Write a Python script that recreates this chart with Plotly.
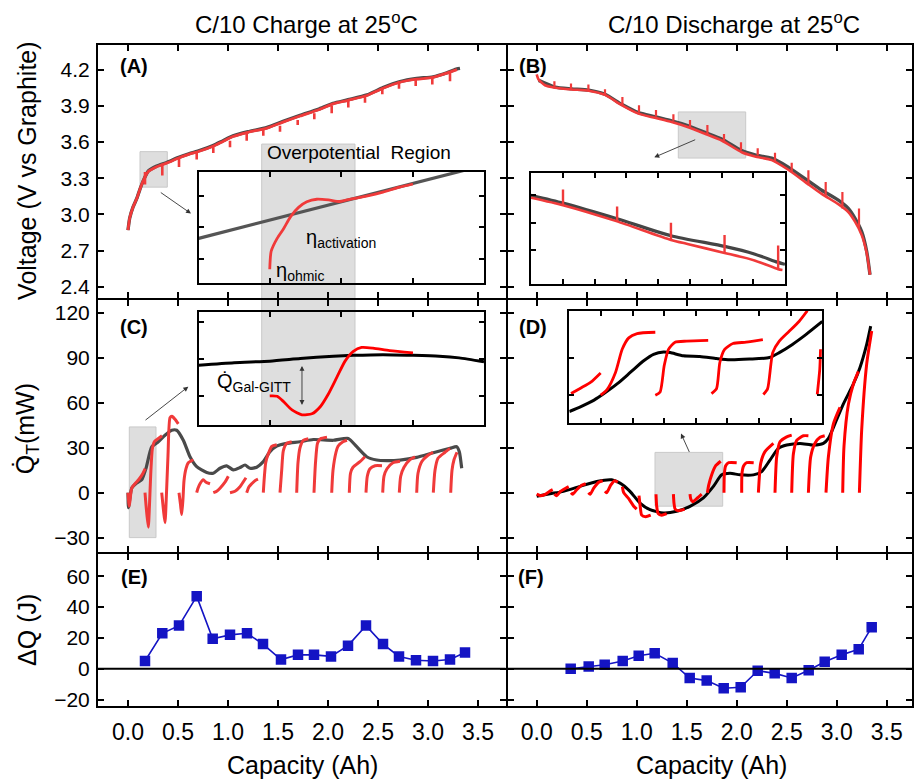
import plotly.graph_objects as go

W, H = 914, 784
FONT = "Liberation Sans, Arial, sans-serif"

# ---------------- Panel A: C/10 charge voltage ----------------
a_cap = [0.0, 0.017, 0.05, 0.087, 0.12, 0.153, 0.203, 0.287, 0.387, 0.50, 0.60, 0.72, 0.85, 0.95,
         1.05, 1.20, 1.39, 1.55, 1.72, 1.90, 2.05, 2.20, 2.39, 2.55, 2.72, 2.887, 3.05, 3.187, 3.29, 3.32]
a_volt_ocv = [2.87, 2.97, 3.06, 3.13, 3.21, 3.28, 3.36, 3.40, 3.43, 3.47, 3.50, 3.53, 3.57, 3.61,
              3.65, 3.685, 3.72, 3.77, 3.82, 3.87, 3.92, 3.95, 3.99, 4.05, 4.10, 4.126, 4.14, 4.173, 4.205, 4.21]
a_volt_gitt = [2.87, 2.97, 3.06, 3.13, 3.21, 3.28, 3.355, 3.395, 3.425, 3.465, 3.495, 3.525, 3.565, 3.605,
               3.645, 3.68, 3.715, 3.765, 3.815, 3.865, 3.915, 3.945, 3.985, 4.045, 4.095, 4.12, 4.135, 4.17, 4.20, None]
a_spike_cap = [0.17, 0.343, 0.51, 0.687, 0.853, 1.02, 1.187, 1.353, 1.52, 1.697, 1.863, 2.037,
               2.203, 2.37, 2.543, 2.71, 2.877, 3.043, 3.22]
a_spike_top = [3.351, 3.419, 3.474, 3.52, 3.564, 3.611, 3.666, 3.701, 3.734, 3.783, 3.838, 3.899,
               3.94, 3.981, 4.049, 4.104, 4.123, 4.14, 4.178]
a_spike_bot = [3.248, 3.323, 3.392, 3.455, 3.509, 3.556, 3.611, 3.652, 3.685, 3.74, 3.789, 3.838,
               3.885, 3.926, 3.995, 4.041, 4.063, 4.077, 4.104]

# inset A (normalised zoom coordinates)
ia_u_ocv = [0.0, 0.3, 0.6, 0.913, 1.0]
ia_v_ocv = [0.402, 0.598, 0.795, 1.0, 1.057]
ia_u_gitt = [0.249, 0.254, 0.275, 0.298, 0.321, 0.350, 0.379, 0.414, 0.455, 0.495, 0.542, 0.588, 0.646, 0.704, 0.751]
ia_v_gitt = [0.125, 0.286, 0.402, 0.49, 0.592, 0.679, 0.729, 0.752, 0.746, 0.732, 0.758, 0.781, 0.816, 0.860, 0.889]

# ---------------- Panel B: C/10 discharge voltage ----------------
b_cap_ocv = [0.02, 0.183, 0.35, 0.52, 0.683, 0.85, 1.017, 1.183, 1.35, 1.516, 1.683, 1.85, 2.05, 2.183,
             2.35, 2.516, 2.683, 2.85, 3.016, 3.116, 3.183, 3.25, 3.30, 3.333]
b_volt_ocv = [4.11, 4.054, 4.04, 4.03, 3.995, 3.912, 3.843, 3.81, 3.775, 3.734, 3.679, 3.624, 3.528, 3.493,
              3.466, 3.392, 3.296, 3.20, 3.118, 3.05, 2.968, 2.858, 2.693, 2.50]
b_cap_gitt = [0.0, 0.017, 0.083, 0.183, 0.35, 0.52, 0.683, 0.85, 1.017, 1.183, 1.35, 1.516, 1.683, 1.85,
              2.05, 2.183, 2.35, 2.516, 2.683, 2.85, 3.016, 3.116, 3.183, 3.25, 3.30, 3.333]
b_volt_gitt = [4.16, 4.12, 4.07, 4.05, 4.035, 4.025, 3.99, 3.905, 3.835, 3.80, 3.765, 3.722, 3.668, 3.612,
               3.515, 3.48, 3.45, 3.37, 3.27, 3.17, 3.085, 3.02, 2.94, 2.83, 2.68, 2.50]
b_spike_cap = [0.177, 0.343, 0.517, 0.683, 0.857, 1.023, 1.193, 1.367, 1.533, 1.707, 1.873, 2.043,
               2.21, 2.383, 2.55, 2.717, 2.89, 3.057, 3.223]
b_spike_lo = [4.058, 4.041, 4.03, 3.98, 3.904, 3.844, 3.811, 3.775, 3.721, 3.666, 3.611, 3.529,
              3.488, 3.433, 3.351, 3.241, 3.145, 3.049, 2.885]
b_spike_hi = [4.104, 4.085, 4.077, 4.036, 3.973, 3.904, 3.866, 3.83, 3.783, 3.74, 3.666, 3.598,
              3.548, 3.51, 3.428, 3.365, 3.269, 3.186, 3.049]

# inset B (normalised)
ib_u_ocv = [0.0, 0.126, 0.339, 0.551, 0.762, 0.879, 0.97, 1.0]
ib_v_ocv = [0.797, 0.727, 0.587, 0.436, 0.34, 0.273, 0.2, 0.18]
ib_u_gitt = [0.0, 0.126, 0.339, 0.551, 0.62, 0.762, 0.88, 0.973, 0.99]
ib_v_gitt = [0.776, 0.709, 0.564, 0.398, 0.36, 0.282, 0.215, 0.137, 0.13]
ib_spike_u = [0.126, 0.339, 0.551, 0.762, 0.973]
ib_spike_lo = [0.709, 0.564, 0.398, 0.282, 0.137]
ib_spike_hi = [0.849, 0.698, 0.552, 0.442, 0.349]

# ---------------- Panel C: heat rate on charge ----------------
c_cap_cal = [0.0, 0.005, 0.037, 0.087, 0.137, 0.18, 0.237, 0.303, 0.37, 0.437, 0.487, 0.553, 0.62, 0.687,
             0.787, 0.853, 0.92, 0.987, 1.053, 1.12, 1.17, 1.22, 1.287, 1.353, 1.42, 1.487, 1.587, 1.72,
             1.853, 2.053, 2.203, 2.287, 2.387, 2.487, 2.587, 2.72, 2.887, 3.053, 3.22, 3.287, 3.313, 3.337]
c_q_cal = [0, -10, 3, 6.4, 8.6, 16.3, 30.6, 34, 38.4, 41.7, 41.7, 35, 24, 17.4,
           13.5, 13, 16.3, 17.9, 15.2, 16.8, 18.5, 16.3, 17, 20.7, 27.4, 31.1, 32.9, 34,
           35.5, 35, 36.2, 30.7, 24, 21.8, 21.4, 21.8, 23.6, 26.7, 29.6, 30.7, 27.4, 16.3]
c_gitt_cap = [
    [0.0, 0.013, 0.037, 0.07, 0.11, 0.15, 0.172],
    [0.17, 0.185, 0.203, 0.215, 0.227, 0.243, 0.263, 0.32, 0.34],
    [0.337, 0.355, 0.37, 0.385, 0.40, 0.42, 0.44, 0.47, 0.503],
    [0.51, 0.525, 0.537, 0.55, 0.56, 0.58, 0.603, 0.653],
    [0.687, 0.70, 0.72, 0.753, 0.78, 0.82],
    [0.853, 0.887, 0.92, 0.97, 1.003],
    [1.02, 1.07, 1.12, 1.16, 1.18],
    [1.187, 1.21, 1.237, 1.27, 1.30],
    [1.353, 1.363, 1.377, 1.403, 1.437, 1.487],
    [1.52, 1.537, 1.553, 1.587, 1.637],
    [1.687, 1.70, 1.72, 1.753, 1.803],
    [1.86, 1.875, 1.895, 1.925, 1.99],
    [2.037, 2.05, 2.08, 2.10, 2.15, 2.19],
    [2.213, 2.225, 2.25, 2.32, 2.37],
    [2.38, 2.393, 2.42, 2.47, 2.54],
    [2.547, 2.56, 2.59, 2.65, 2.72],
    [2.713, 2.727, 2.76, 2.82, 2.87],
    [2.887, 2.90, 2.94, 3.00, 3.05],
    [3.053, 3.07, 3.10, 3.17, 3.22],
    [3.227, 3.24, 3.26, 3.29],
]
c_gitt_q = [
    [0, -9, 3, 6, 9, 13, 16],
    [0, -12, -23, -8, 12, 29, 34, 37, 38],
    [0, -12, -20, 0, 25, 50, 51, 49, 46],
    [0, -8, -14.6, -4, 8, 16, 20, 22],
    [0, 3, 6, 8.6, 7, 6],
    [0, 1, 3, 7, 11],
    [0, 1, 4, 8, 10],
    [0, 4, 6, 8, 9],
    [0, 10, 20, 26, 31, 32],
    [0, 15, 28, 33, 34],
    [0, 20, 30, 35, 36],
    [0, 20, 33, 36, 37],
    [0, 15, 27, 31, 34, 35],
    [0, 13, 17, 20.7, 24],
    [0, 11, 16, 18, 18],
    [0, 11, 16, 20, 21],
    [0, 11, 17, 22, 24],
    [0, 13, 21, 25, 27],
    [0, 15, 23, 27, 29.6],
    [0, 15, 22, 27],
]

# inset C (normalised)
ic_u_cal = [0.0, 0.124, 0.249, 0.356, 0.472, 0.542, 0.646, 0.751, 0.843, 0.913, 1.0]
ic_v_cal = [0.528, 0.551, 0.565, 0.588, 0.609, 0.617, 0.623, 0.617, 0.609, 0.594, 0.559]
ic_u_gitt = [0.249, 0.275, 0.298, 0.327, 0.362, 0.397, 0.426, 0.455, 0.484, 0.513, 0.542, 0.571, 0.611, 0.669, 0.751]
ic_v_gitt = [0.255, 0.252, 0.203, 0.13, 0.087, 0.096, 0.159, 0.275, 0.42, 0.565, 0.652, 0.687, 0.681, 0.658, 0.638]

# ---------------- Panel D: heat rate on discharge ----------------
d_cap_cal = [0.0, 0.133, 0.267, 0.433, 0.6, 0.75, 0.833, 0.933, 1.033, 1.133, 1.267, 1.4, 1.533, 1.667,
             1.767, 1.85, 1.933, 2.033, 2.167, 2.25, 2.333, 2.417, 2.5, 2.633, 2.767, 2.867, 2.917,
             2.983, 3.067, 3.167, 3.233, 3.3, 3.34]
d_q_cal = [-2.4, -0.7, 0.9, 4.2, 7.5, 8.6, 6.4, 0.9, -6.9, -11.3, -13.5, -12.4, -9.1, -3.5,
           4.2, 11.9, 13, 11.9, 11.9, 14.1, 21.8, 29.6, 31.8, 32.9, 31.8, 32.9, 36.2,
           46.1, 59.3, 72.6, 83.6, 99, 111.2]
d_gitt_cap = [
    [0.0, 0.04, 0.09, 0.13, 0.16],
    [0.177, 0.2, 0.24, 0.29, 0.32],
    [0.343, 0.36, 0.40, 0.45, 0.49],
    [0.517, 0.535, 0.57, 0.62, 0.66],
    [0.683, 0.70, 0.74, 0.78, 0.81],
    [0.857, 0.87, 0.92, 0.97, 1.0],
    [1.023, 1.035, 1.05, 1.09, 1.14],
    [1.193, 1.20, 1.215, 1.25, 1.30],
    [1.367, 1.373, 1.385, 1.42, 1.48],
    [1.533, 1.54, 1.56, 1.60, 1.65],
    [1.707, 1.72, 1.75, 1.79, 1.84],
    [1.873, 1.877, 1.89, 1.92, 2.0],
    [2.05, 2.053, 2.07, 2.10, 2.17],
    [2.217, 2.24, 2.283, 2.367],
    [2.383, 2.40, 2.433, 2.50, 2.55],
    [2.55, 2.567, 2.60, 2.667, 2.717],
    [2.717, 2.74, 2.783, 2.833, 2.88],
    [2.893, 2.917, 2.967, 3.033],
    [3.06, 3.073, 3.117, 3.167, 3.217],
    [3.227, 3.25, 3.30, 3.35],
]
d_gitt_q = [
    [-1, -2, -1, 1, 2],
    [-1, -2, 1, 3, 4],
    [0, -1, 2, 5, 6],
    [0, -1, 3, 7, 8],
    [1, 0, 5, 8, 7],
    [4, 0, -4, -9, -11],
    [-2, -9, -15, -16, -15],
    [-1, -9, -14, -15, -14],
    [-1, -7, -11, -12, -11],
    [-1, -4, -6, -4, -1],
    [0, 5, 12, 18, 21],
    [0, 13, 18, 20, 20],
    [0, 13, 18, 20, 20],
    [0, 19.6, 27.4, 32.9],
    [0, 24, 34, 37.3, 38.4],
    [0, 26, 35, 38, 38],
    [0, 24, 33, 37, 38],
    [0, 24, 46, 57],
    [0, 31, 59, 72.6, 81],
    [0, 42, 86, 108],
]

# inset D (normalised)
id_u_cal = [0.0, 0.046, 0.098, 0.137, 0.19, 0.242, 0.294, 0.333, 0.373, 0.399, 0.451, 0.516, 0.582,
            0.634, 0.712, 0.791, 0.83, 0.882, 0.935, 1.0]
id_v_cal = [0.102, 0.146, 0.204, 0.262, 0.35, 0.452, 0.554, 0.612, 0.633, 0.627, 0.598, 0.592, 0.574,
            0.563, 0.569, 0.583, 0.627, 0.70, 0.787, 0.904]
id_gitt_u = [
    [0.007, 0.046, 0.085, 0.124],
    [0.124, 0.15, 0.183, 0.209, 0.235, 0.268, 0.34],
    [0.34, 0.359, 0.375, 0.392, 0.418, 0.464, 0.549],
    [0.562, 0.582, 0.595, 0.614, 0.647, 0.699, 0.765],
    [0.767, 0.784, 0.804, 0.83, 0.869, 0.908, 0.941],
    [0.98, 0.99, 0.993],
]
id_gitt_v = [
    [0.262, 0.312, 0.364, 0.446],
    [0.248, 0.30, 0.452, 0.656, 0.758, 0.796, 0.808],
    [0.248, 0.277, 0.51, 0.656, 0.72, 0.729, 0.735],
    [0.262, 0.306, 0.539, 0.656, 0.708, 0.72, 0.743],
    [0.254, 0.306, 0.627, 0.729, 0.816, 0.904, 1.0],
    [0.254, 0.48, 0.656],
]

# ---------------- Panels E and F: heat difference ----------------
e_cap = [0.17, 0.343, 0.51, 0.687, 0.847, 1.02, 1.19, 1.35, 1.53, 1.70, 1.86, 2.03, 2.20, 2.38,
         2.55, 2.71, 2.88, 3.05, 3.22, 3.37]
e_dq = [5, 23, 28, 47, 19.5, 22, 23, 16, 6, 9, 9, 8, 15, 28, 16, 8, 5.5, 5, 6, 10.5]
f_cap = [0.34, 0.52, 0.68, 0.86, 1.02, 1.18, 1.36, 1.53, 1.70, 1.87, 2.04, 2.21, 2.38, 2.55,
         2.72, 2.88, 3.05, 3.22, 3.35]
f_dq = [0, 1.5, 2.6, 5, 8.4, 10, 3.7, -6, -7.7, -12.7, -12, -1.3, -3, -6, -1, 4.5, 9, 12.7, 27]

cap_ticks = [0.0, 0.5, 1.0, 1.5, 2.0, 2.5, 3.0, 3.5]
volt_ticks = [2.4, 2.7, 3.0, 3.3, 3.6, 3.9, 4.2]
heat_ticks = [-30, 0, 30, 60, 90, 120]
dq_ticks = [-20, 0, 20, 40, 60]

# ---------------- styling ----------------
RED = "#f03a3a"
PURE_RED = "#ff0000"
DARK = "#4a4a4a"
BLUE = "#1414c4"


def vsegments(xs, lo, hi):
    X, Y = [], []
    for x, a, b in zip(xs, lo, hi):
        X += [x, x, None]
        Y += [a, b, None]
    return X, Y


def joined(seg_x, seg_y):
    X, Y = [], []
    for sx, sy in zip(seg_x, seg_y):
        X += list(sx) + [None]
        Y += list(sy) + [None]
    return X, Y


fig = go.Figure()


def line(x, y, ax, color, width, shape="spline", smooth=0.6):
    fig.add_trace(go.Scatter(x=x, y=y, mode="lines", xaxis="x" + ax, yaxis="y" + ax,
                             line=dict(color=color, width=width, shape=shape,
                                       smoothing=smooth if shape == "spline" else None),
                             hoverinfo="skip", showlegend=False))


# A
line(a_cap, a_volt_ocv, "", DARK, 3.4)
line(a_cap, a_volt_gitt, "", RED, 2.8)
sx, sy = vsegments(a_spike_cap, a_spike_top, a_spike_bot)
line(sx, sy, "", RED, 2.6, shape="linear")
# B
line(b_cap_ocv, b_volt_ocv, "2", DARK, 3.4)
line(b_cap_gitt, b_volt_gitt, "2", RED, 2.6)
sx, sy = vsegments(b_spike_cap, b_spike_lo, b_spike_hi)
line(sx, sy, "2", RED, 2.2, shape="linear")
# C
line(c_cap_cal, c_q_cal, "3", DARK, 3.2)
gx, gy = joined(c_gitt_cap, c_gitt_q)
line(gx, gy, "3", RED, 3.0)
# D
line(d_cap_cal, d_q_cal, "4", "#000000", 3.0)
gx, gy = joined(d_gitt_cap, d_gitt_q)
line(gx, gy, "4", PURE_RED, 3.0)
# E, F
for xs, ys, ax in [(e_cap, e_dq, "5"), (f_cap, f_dq, "6")]:
    fig.add_trace(go.Scatter(x=xs, y=ys, mode="lines+markers", xaxis="x" + ax, yaxis="y" + ax,
                             line=dict(color=BLUE, width=1.6),
                             marker=dict(symbol="square", size=10.5, color=BLUE),
                             hoverinfo="skip", showlegend=False))
# inset A
line(ia_u_ocv, ia_v_ocv, "7", "#555555", 3.2, shape="linear")
line(ia_u_gitt, ia_v_gitt, "7", RED, 2.8)
# inset B
line(ib_u_ocv, ib_v_ocv, "8", "#454545", 3.2)
line(ib_u_gitt, ib_v_gitt, "8", RED, 2.6)
sx, sy = vsegments(ib_spike_u, ib_spike_lo, ib_spike_hi)
line(sx, sy, "8", RED, 2.4, shape="linear")
# inset C
line(ic_u_cal, ic_v_cal, "9", "#000000", 3.0)
line(ic_u_gitt, ic_v_gitt, "9", PURE_RED, 2.8)
# inset D
line(id_u_cal, id_v_cal, "10", "#000000", 3.0)
gx, gy = joined(id_gitt_u, id_gitt_v)
line(gx, gy, "10", PURE_RED, 2.8)

# ---------------- axes ----------------
LW = 2
LX = [98 / W, 505.5 / W]
RX = [507.5 / W, 912 / W]
TOP = [1 - 300 / H, 1 - 45.7 / H]
MID = [1 - 555.7 / H, 1 - 302 / H]
BOT = [1 - 710.7 / H, 1 - 557.7 / H]

base = dict(showline=True, linecolor="black", linewidth=LW, mirror="ticks", ticks="inside",
            ticklen=6, tickwidth=1.8, tickcolor="black", showgrid=False, zeroline=False,
            tickfont=dict(family=FONT, size=21, color="black"))


def xa(domain, anchor, rng, labels):
    d = dict(base, domain=domain, anchor=anchor, range=rng, tickvals=cap_ticks,
             ticktext=[f"{v:.1f}" for v in cap_ticks], showticklabels=labels)
    if labels:
        d["tickfont"] = dict(family=FONT, size=23, color="black")
        d["ticklabelstandoff"] = 4
    return d


def ya(domain, anchor, rng, ticks, labels, fmt):
    return dict(base, domain=domain, anchor=anchor, range=rng, tickvals=ticks,
                ticktext=[fmt.format(v).replace("-", "\u2212") for v in ticks], showticklabels=labels,
                ticklabelstandoff=2)


LR = [-0.3, 3.775]
RR = [-0.292, 3.753]
layout = dict(
    xaxis=xa(LX, "y", LR, False), yaxis=ya(TOP, "x", [2.307, 4.4], volt_ticks, True, "{:.1f}"),
    xaxis2=xa(RX, "y2", RR, False), yaxis2=ya(TOP, "x2", [2.307, 4.4], volt_ticks, False, "{:.1f}"),
    xaxis3=xa(LX, "y3", LR, False), yaxis3=ya(MID, "x3", [-39.7, 128.6], heat_ticks, True, "{:d}"),
    xaxis4=xa(RX, "y4", RR, False), yaxis4=ya(MID, "x4", [-39.7, 128.6], heat_ticks, False, "{:d}"),
    xaxis5=xa(LX, "y5", LR, True), yaxis5=ya(BOT, "x5", [-24.3, 74.4], dq_ticks, True, "{:d}"),
    xaxis6=xa(RX, "y6", RR, True), yaxis6=ya(BOT, "x6", [-24.3, 74.4], dq_ticks, False, "{:d}"),
)


def inset(xd, yd, anchor, xt, yt):
    common = dict(showline=True, linecolor="black", linewidth=2, mirror="ticks", ticks="inside",
                  ticklen=5, tickwidth=1.6, tickcolor="black", showgrid=False, zeroline=False,
                  showticklabels=False, range=[0, 1])
    return (dict(common, domain=xd, anchor="y" + anchor, tickvals=xt),
            dict(common, domain=yd, anchor="x" + anchor, tickvals=yt))


quarter = [0.25, 0.5, 0.75]
eighth = [0.125, 0.25, 0.375, 0.5, 0.625, 0.75, 0.875]
layout["xaxis7"], layout["yaxis7"] = inset([198.7 / W, 484 / W], [1 - 285 / H, 1 - 172.7 / H], "7",
                                           quarter, [0.22, 0.5, 0.78])
layout["xaxis8"], layout["yaxis8"] = inset([531 / W, 785 / W], [1 - 286.3 / H, 1 - 173.7 / H], "8",
                                           eighth, [0.305, 0.552, 0.8])
layout["xaxis9"], layout["yaxis9"] = inset([198.7 / W, 484 / W], [1 - 427.3 / H, 1 - 314.3 / H], "9",
                                           quarter, [0.252, 0.58, 0.913])
layout["xaxis10"], layout["yaxis10"] = inset([569.3 / W, 822.3 / W], [1 - 425.7 / H, 1 - 312.7 / H], "10",
                                             eighth, [0.25, 0.58])

# ---------------- shapes ----------------
GREY = "#dedede"
GREY_LINE = "#c9c9c9"
shapes = [
    # overpotential band
    dict(type="rect", xref="paper", yref="paper", x0=261.7 / W, x1=355 / W, y0=1 - 428.3 / H, y1=1 - 145 / H,
         fillcolor=GREY, line=dict(color=GREY_LINE, width=1), layer="below"),
    # zoom boxes
    dict(type="rect", xref="x", yref="y", x0=0.12, x1=0.393, y0=3.226, y1=3.52,
         fillcolor=GREY, line=dict(color=GREY_LINE, width=1), layer="below"),
    dict(type="rect", xref="x2", yref="y2", x0=1.416, x1=2.09, y0=3.467, y1=3.849,
         fillcolor=GREY, line=dict(color=GREY_LINE, width=1), layer="below"),
    dict(type="rect", xref="x3", yref="y3", x0=0.013, x1=0.28, y0=-30, y1=43.9,
         fillcolor=GREY, line=dict(color=GREY_LINE, width=1), layer="below"),
    dict(type="rect", xref="x4", yref="y4", x0=1.183, x1=1.86, y0=-9, y1=26.9,
         fillcolor=GREY, line=dict(color=GREY_LINE, width=1), layer="below"),
    # zero lines
    dict(type="line", xref="x5 domain", yref="y5", x0=0, x1=1, y0=0, y1=0, line=dict(color="black", width=2)),
    dict(type="line", xref="x6 domain", yref="y6", x0=0, x1=1, y0=0, y1=0, line=dict(color="black", width=2)),
]

# ---------------- annotations ----------------
ann = []


def text(x, y, s, size, xanchor="center", **kw):
    d = dict(xref="paper", yref="paper", x=x / W, y=1 - y / H, text=s, showarrow=False,
             xanchor=xanchor, yanchor="middle",
             font=dict(family=FONT, size=size, color="black"))
    d.update(kw)
    ann.append(d)


text(306, 23, "C/10 Charge at 25<sup>o</sup>C", 24)
text(734, 23, "C/10 Discharge at 25<sup>o</sup>C", 24)
text(302, 770, "Capacity (Ah)", 25)
text(711, 770, "Capacity (Ah)", 25)
text(27, 172, "Voltage (V vs Graphite)", 25, textangle=-90)
text(27, 432, "Q\u0307<sub>T</sub>(mW)", 25, textangle=-90)
text(27, 634, "\u0394Q (J)", 25, textangle=-90)
for lab, x, y in [("(A)", 134, 66), ("(B)", 533, 66), ("(C)", 134, 329), ("(D)", 533, 329),
                  ("(E)", 134, 581), ("(F)", 531, 581)]:
    text(x, y, "<b>" + lab + "</b>", 20)
text(359, 153, "Overpotential  Region", 19)
text(304, 240, "\u03b7<sub>activation</sub>", 20, xanchor="left")
text(274, 273, "\u03b7<sub>ohmic</sub>", 20, xanchor="left")
text(215, 385, "Q\u0307<sub>Gal-GITT</sub>", 20, xanchor="left")


def arrow(xr, yr, x, y, ax, ay, both=False):
    d = dict(xref=xr, yref=yr, axref=xr, ayref=yr, x=x, y=y, ax=ax, ay=ay, text="", showarrow=True,
             arrowhead=2, arrowsize=1.1, arrowwidth=0.9, arrowcolor="#333333", standoff=0, startstandoff=0)
    if both:
        d["arrowside"] = "end+start"
    ann.append(d)


arrow("x", "y", 0.63, 3.007, 0.313, 3.19)
arrow("x2", "y2", 1.176, 3.473, 1.6, 3.624)
arrow("x3", "y3", 0.603, 70.8, 0.16, 47.7)
arrow("x4", "y4", 1.443, 39.5, 1.533, 26.2)
arrow("x9", "y9", 0.362, 0.174, 0.362, 0.536, both=True)

fig.update_layout(**layout)
fig.update_layout(width=W, height=H, margin=dict(l=0, r=0, t=0, b=0), paper_bgcolor="white",
                  plot_bgcolor="rgba(0,0,0,0)", shapes=shapes, annotations=ann, showlegend=False,
                  font=dict(family=FONT, color="black"))

fig.write_html("out.html")
